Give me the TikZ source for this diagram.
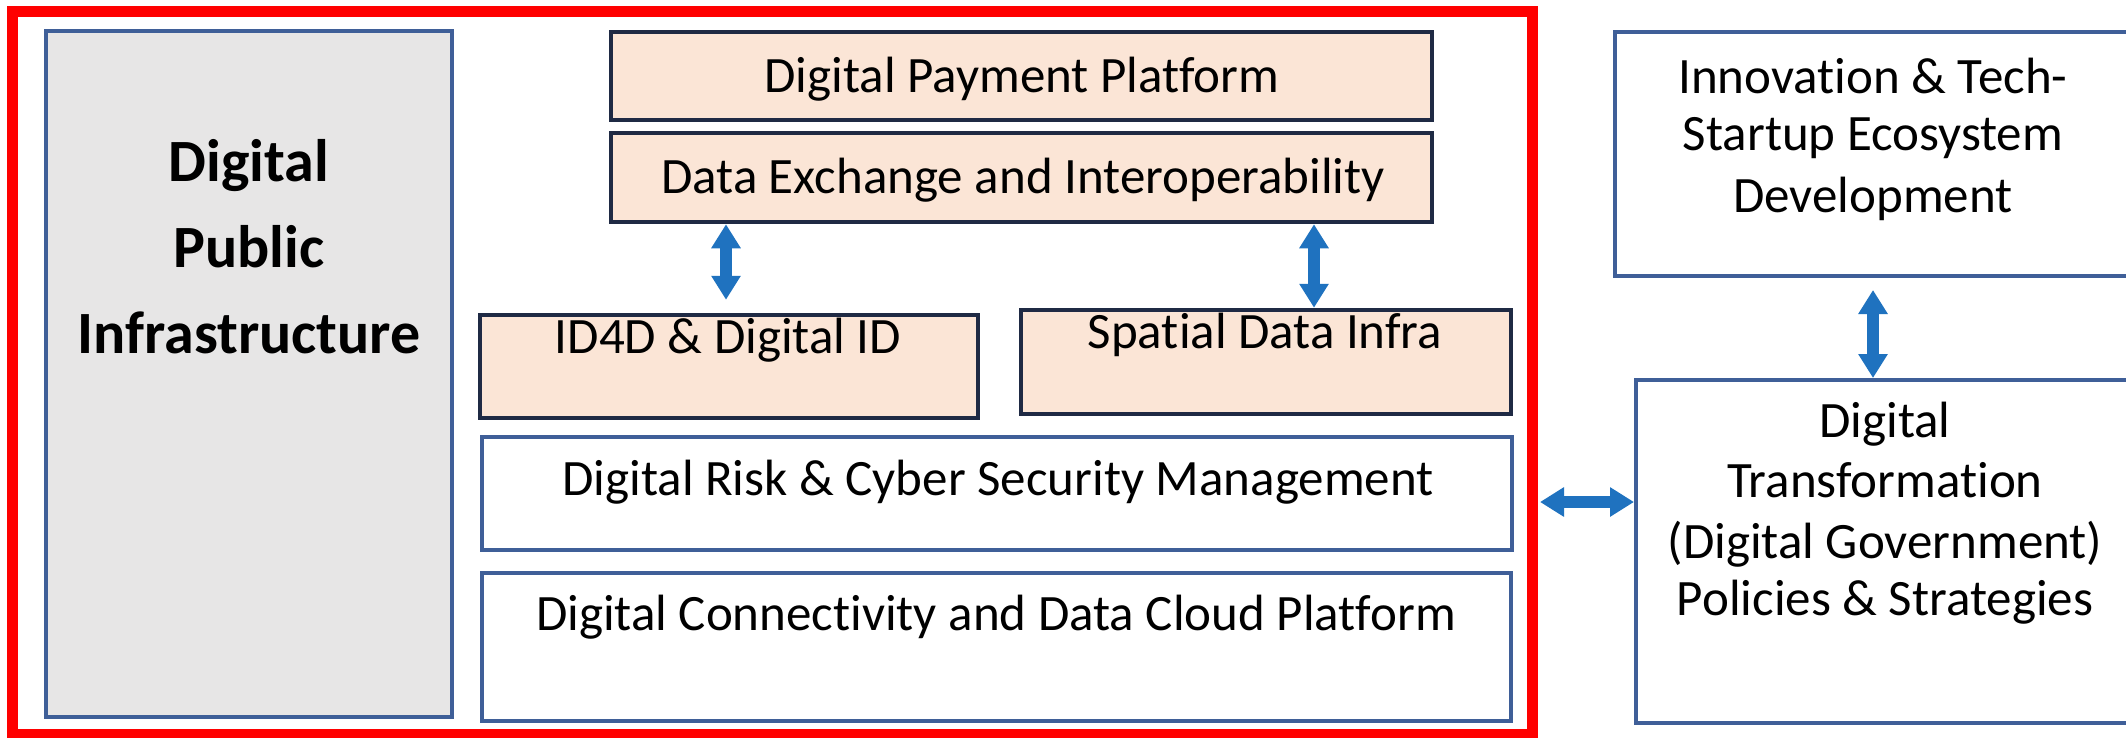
\documentclass[tikz,border=0pt]{standalone}
\usepackage{fontspec}
\setmainfont{Carlito}[Ligatures=NoCommon]
\usetikzlibrary{arrows.meta}
\definecolor{redframe}{HTML}{FF0000}
\definecolor{grayfill}{HTML}{E7E6E6}
\definecolor{blueline}{HTML}{3F5F98}
\definecolor{navyline}{HTML}{1F2A44}
\definecolor{peach}{HTML}{FBE5D6}
\definecolor{arrowblue}{HTML}{1F72BF}
\begin{document}
\begin{tikzpicture}[x=1pt,y=-1pt,
  every node/.style={inner sep=0pt},
  framebox/.style={draw=redframe,line width=11pt,rectangle},
  graybox/.style={draw=blueline,line width=3.5pt,fill=grayfill,rectangle},
  whitebox/.style={draw=blueline,line width=4pt,fill=white,rectangle},
  peachbox/.style={draw=navyline,line width=4.5pt,fill=peach,rectangle},
  lbl/.style={anchor=base,font=\fontsize{51}{60}\selectfont,text=black},
  biglbl/.style={anchor=base,font=\fontsize{60}{70}\selectfont\bfseries,text=black},
  dbl/.style={draw=arrowblue,line width=12pt,
    {Triangle[width=28pt,length=24pt]}-{Triangle[width=28pt,length=24pt]}}
]
\useasboundingbox (0,0) rectangle (2126,737);
\clip (0,0) rectangle (2126,737);
\fill[white] (0,0) rectangle (2126,737);

% frame and boxes
\node[framebox,minimum width=1520pt,minimum height=723pt] (frame) at (772,372.5) {};
\node[graybox,minimum width=406pt,minimum height=686pt] (dpi) at (249,374) {};
\node[peachbox,minimum width=821pt,minimum height=88pt] (pay) at (1021.5,76) {};
\node[peachbox,minimum width=821pt,minimum height=89pt] (dex) at (1021.5,177.5) {};
\node[peachbox,minimum width=498pt,minimum height=103pt] (id) at (729,366.5) {};
\node[peachbox,minimum width=490pt,minimum height=104pt] (sp) at (1266,362) {};
\node[whitebox,minimum width=1030pt,minimum height=113pt] (risk) at (997,493.5) {};
\node[whitebox,minimum width=1029pt,minimum height=148pt] (conn) at (996.5,647) {};
\node[whitebox,minimum width=525pt,minimum height=244pt] (inn) at (1877.5,154) {};
\node[whitebox,minimum width=504pt,minimum height=343pt] (dt) at (1888,551.5) {};

% texts
\node[biglbl] (dpit1) at (249,181) {Digital};
\node[biglbl] (dpit2) at (249,267) {Public};
\node[biglbl] (dpit3) at (249,353) {Infrastructure};
\node[lbl] (payt) at (1022,92) {Digital Payment Platform};
\node[lbl] (dext) at (1023,193) {Data Exchange and Interoperability};
\node[lbl] (idt) at (728,353) {ID4D \& Digital ID};
\node[lbl] (spt) at (1265,348) {Spatial Data Infra};
\node[lbl] (riskt) at (998,495) {Digital Risk \& Cyber Security Management};
\node[lbl] (connt) at (996,630) {Digital Connectivity and Data Cloud Platform};
\node[lbl] (innt1) at (1873,93) {Innovation \& Tech-};
\node[lbl] (innt2) at (1873,150) {Startup Ecosystem};
\node[lbl] (innt3) at (1873,212) {Development};
\node[lbl] (dtt1) at (1885,437) {Digital};
\node[lbl] (dtt2) at (1885,497) {Transformation};
\node[lbl] (dtt3) at (1885,558) {(Digital Government)};
\node[lbl] (dtt4) at (1885,615) {Policies \& Strategies};

% connectors
\coordinate (a1e) at ([xshift=-3pt,yshift=13pt]id.north);
\draw[dbl] (dex.south -| a1e) -- (a1e);
\coordinate (a2e) at ([xshift=48pt]sp.north);
\draw[dbl] (dex.south -| a2e) -- (a2e);
\coordinate (a3s) at ([xshift=-4.5pt,yshift=-12pt]inn.south);
\draw[dbl] (a3s) -- (a3s |- dt.north);
\coordinate (a4e) at ([yshift=49.5pt]dt.west);
\draw[dbl] ([xshift=2.5pt]frame.east |- a4e) -- (a4e);
\end{tikzpicture}
\end{document}
